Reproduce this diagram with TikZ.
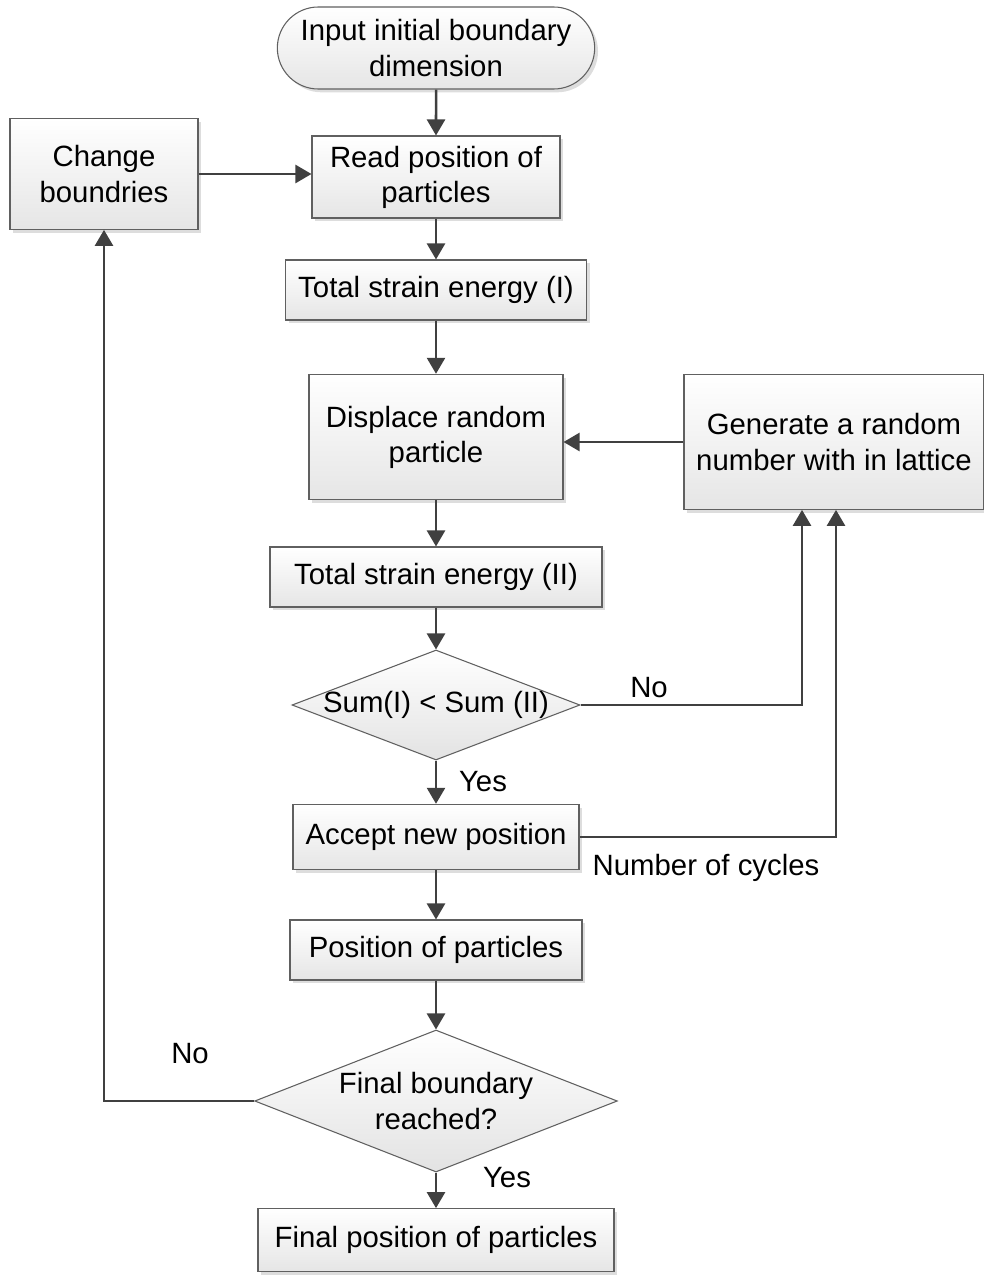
\documentclass[tikz,border=0pt]{standalone}
\usepackage{fontspec}
\setmainfont{Liberation Sans}
\usetikzlibrary{shapes.geometric,shapes.misc,shadows,arrows.meta}

\definecolor{linegray}{HTML}{404040}
\definecolor{boxline}{HTML}{606060}

\begin{document}
\begin{tikzpicture}[x=0.75pt,y=-0.75pt]
		\fontsize{22}{26.3}\selectfont
		\useasboundingbox (0,0) rectangle (984,1280);
		\tikzset{box/.style = {rectangle, draw=boxline, line width=0.8pt, top color=white,
				bottom color=gray!20, align=center, inner sep=2pt,
				drop shadow={shadow xshift=2.5pt, shadow yshift=-2.5pt, fill=gray!45, opacity=0.6}},
			startstop/.style = {box, rounded rectangle},
			decision/.style = {diamond, draw=boxline, line width=0.8pt, top color=white,
				bottom color=gray!22, inner sep=0pt},
			arr/.style = {draw=linegray, line width=1.9pt, -{Triangle[length=12pt,width=13.5pt]}}}
		% main column
		\node[startstop, minimum width=242pt, minimum height=61.5pt] (start) at (436,48) {Input initial boundary\\dimension};
		\node[box, minimum width=186pt, minimum height=61.5pt] (read) at (436,177) {Read position of\\particles};
		\node[box, minimum width=141pt, minimum height=83pt] (change) at (104,174) {Change\\boundries};
		\node[box, minimum width=226pt, minimum height=45pt] (tse1) at (436,290) {Total strain energy (I)};
		\node[box, minimum width=190.5pt, minimum height=94pt] (disp) at (436,437) {Displace random\\particle};
		\node[box, minimum width=225pt, minimum height=101pt] (gen) at (834,442) {Generate a random\\number with in lattice};
		\node[box, minimum width=249pt, minimum height=45pt] (tse2) at (436,577) {Total strain energy (II)};
		\node[decision, minimum width=216pt, minimum height=82.5pt,
			label=center:{Sum(I) < Sum (II)}] (sum) at (436,705) {};
		\node[box, minimum width=214.5pt, minimum height=49pt] (accept) at (436,837) {Accept new position};
		\node[box, minimum width=219pt, minimum height=45pt] (pos) at (436,950) {Position of particles};
		\node[decision, minimum width=272pt, minimum height=106.5pt,
			label={[align=center]center:{Final boundary\\reached?}}] (final) at (436,1101) {};
		\node[box, minimum width=267pt, minimum height=47pt] (fpos) at (436,1240) {Final position of particles};

		% connectors
		\draw[arr] (start) -- (read);
		\draw[arr] (change.east) -- (change.east -| read.west);
		\draw[arr] (read) -- (tse1);
		\draw[arr] (tse1) -- (disp);
		\draw[arr] (disp) -- (tse2);
		\draw[arr] (tse2) -- (sum);
		\draw[arr] (sum) -- (accept);
		\draw[arr] (accept) -- (pos);
		\draw[arr] (pos) -- (final);
		\draw[arr] (final) -- (fpos);
		\draw[arr] (gen.west) -- (gen.west -| disp.east);
		\draw[arr] (sum.east) -| ([xshift=-24pt]gen.south);
		\draw[arr] (accept.east) -| ([xshift=1.5pt]gen.south);
		\draw[arr] (final.west) -| (change.south);

		% branch labels
		\node (no1) at (649,688) {No};
		\node (yes1) at (483,782) {Yes};
		\node (cyc) at (706,868) {Number of cycles};
		\node (no2) at (190,1054) {No};
		\node (yes2) at (507,1178) {Yes};
\end{tikzpicture}
\end{document}
